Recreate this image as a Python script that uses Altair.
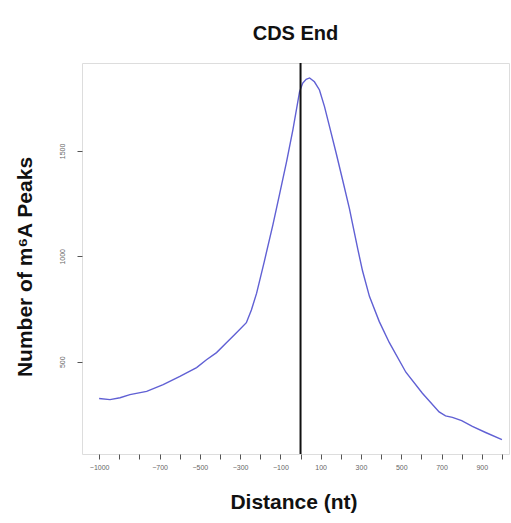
import altair as alt
import pandas as pd

distance = [-1000, -946, -896, -847, -764, -682, -599, -516, -467, -417, -368, -318,
            -269, -244, -218, -180, -137, -104, -69, -38, -5, 11, 28, 45, 69, 94,
            119, 144, 177, 209, 243, 257, 284, 308, 342, 391, 441, 523, 605, 688,
            720, 754, 800, 853, 919, 1000]
peaks = [325, 320, 329, 344, 359, 391, 430, 472, 509, 543, 590, 637,
         685, 745, 825, 975, 1150, 1295, 1450, 1600, 1780, 1822, 1840, 1846, 1828, 1789,
         1710, 1615, 1489, 1362, 1225, 1160, 1035, 930, 810, 690, 590, 450, 350, 262,
         243, 236, 220, 193, 164, 130]

x_ticks = list(range(-1000, 1001, 100))
x_labels = [-1000, -700, -500, -300, -100, 100, 300, 500, 700, 900]
y_ticks = [500, 1000, 1500]

df = pd.DataFrame({"distance": distance, "peaks": peaks})

FONT = "Liberation Sans"
W, H = 427, 391

label_test = " || ".join("datum.value == %d" % v for v in x_labels)

line = alt.Chart(df).mark_line(color="#6060d4", strokeWidth=1.4).encode(
    x=alt.X("distance:Q",
            scale=alt.Scale(domain=[-1085, 1035], nice=False, zero=False),
            axis=alt.Axis(values=x_ticks, tickCount=len(x_ticks) + 5,
                          title="Distance (nt)", domain=False,
                          tickColor="#555555", tickSize=5, labelFontSize=7,
                          labelColor="#666666", labelPadding=4, grid=False,
                          labelOverlap=False, labelFlush=False, labelBound=False,
                          labelExpr="(" + label_test + ") ? format(datum.value, 'd') : ''",
                          titleFontSize=21, titleFont=FONT,
                          titleFontWeight="bold", titleColor="#111111",
                          titleX=W / 2 - 2, titleY=48, titleBaseline="middle")),
    y=alt.Y("peaks:Q",
            scale=alt.Scale(domain=[62, 1917], nice=False, zero=False),
            axis=alt.Axis(values=y_ticks, title="Number of m⁶A Peaks", domain=False,
                          tickColor="#555555", tickSize=5, labelFontSize=7,
                          labelColor="#666666", labelAngle=270, labelAlign="center",
                          labelBaseline="bottom", labelPadding=12, grid=False,
                          labelOverlap=False,
                          format="d", titleFontSize=21, titleFont=FONT,
                          titleFontWeight="bold", titleColor="#111111",
                          titleAngle=270, titleX=-57, titleY=H / 2 + 8,
                          titleBaseline="middle", titleAlign="center")),
)

vline = alt.Chart(pd.DataFrame({"x": [0]})).mark_rule(color="#111111", strokeWidth=2).encode(
    x="x:Q"
)

chart = alt.layer(line, vline).properties(
    width=W, height=H,
    title=alt.TitleParams("CDS End", fontSize=20, font=FONT, fontWeight="bold",
                          color="#111111", anchor="middle", offset=18),
    autosize=alt.AutoSizeParams(type="none"),
    padding={"left": 82, "top": 63, "right": 2, "bottom": 69},
).configure_view(stroke="#444444", strokeWidth=1.5).configure(background="white")

chart.save("out.html", embed_options={"renderer": "svg", "actions": False})
